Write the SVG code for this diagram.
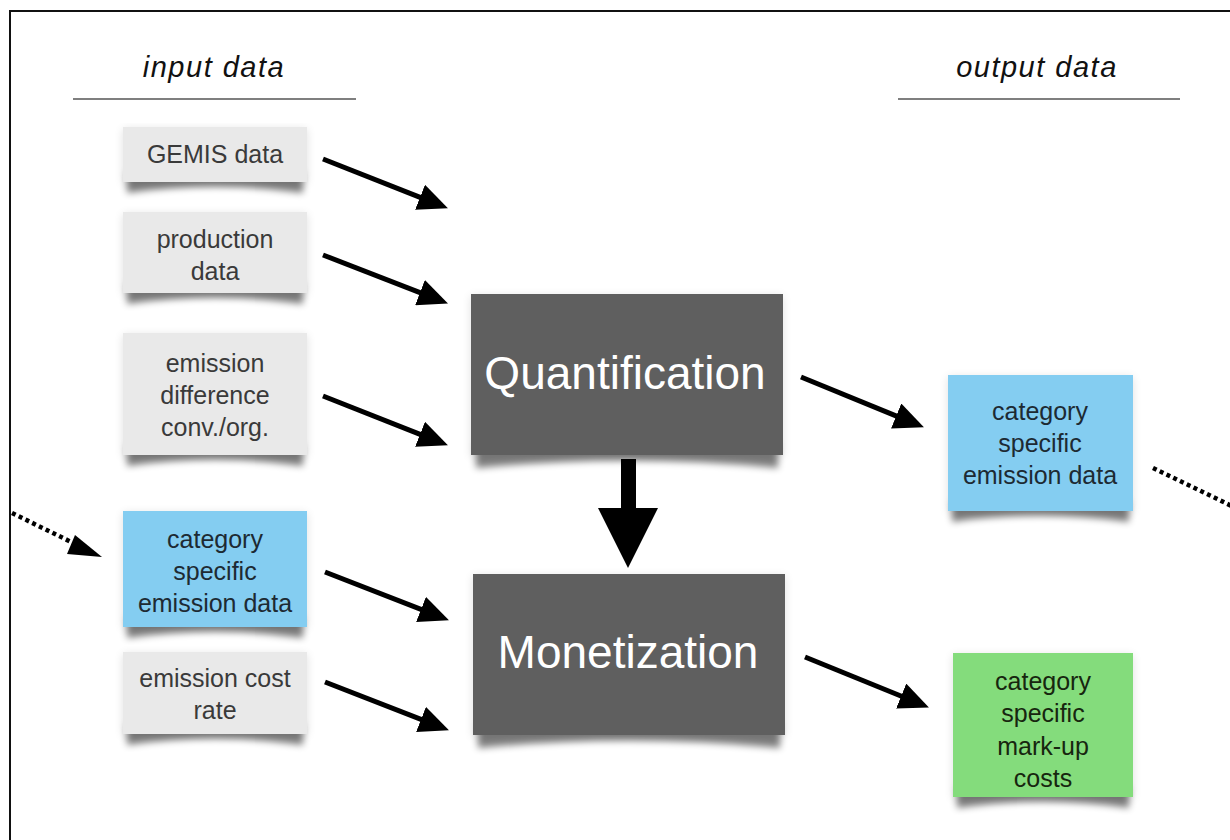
<svg xmlns="http://www.w3.org/2000/svg" width="1230" height="840" viewBox="0 0 1230 840">
  <defs>
    <filter id="curl" x="-10%" y="-50%" width="120%" height="200%">
      <feGaussianBlur stdDeviation="3.5"/>
    </filter>
    <filter id="soft" x="-10%" y="-10%" width="120%" height="130%">
      <feGaussianBlur stdDeviation="5"/>
    </filter>
    <marker id="head" markerUnits="userSpaceOnUse" markerWidth="31" markerHeight="27" refX="9" refY="13.5" orient="auto">
      <path d="M0,0 L30,13.5 L0,27 Z" fill="#000"/>
    </marker>
  </defs>
  <style>
    .frame { fill: none; stroke: #111; stroke-width: 2; }
    .rule { stroke: #555; stroke-width: 1.5; }
    .heading { font-family: "Liberation Sans", Arial, sans-serif; font-style: italic; font-size: 29px; letter-spacing: 1.5px; fill: #111; text-anchor: middle; }
    .label { font-family: "Liberation Sans", Arial, sans-serif; font-size: 25px; text-anchor: middle; }
    .big { font-family: "Liberation Sans", Arial, sans-serif; font-size: 46px; fill: #fff; text-anchor: middle; }
    .input { fill: #e9e9e9; }
    .blue { fill: #84cdf1; }
    .green { fill: #84dc7c; }
    .process { fill: #5f5f5f; }
    .t-grey { fill: #3a3a3a; }
    .t-blue { fill: #1d2a33; }
    .t-green { fill: #17260f; }
    .curl { fill: #000; opacity: 0.5; filter: url(#curl); }
    .ambient { fill: #000; opacity: 0.12; filter: url(#soft); }
    .arrow { stroke: #000; stroke-width: 5; fill: none; marker-end: url(#head); }
    .dotted { stroke: #000; stroke-width: 4.5; fill: none; stroke-dasharray: 4 3.5; }
  </style>

  <rect width="1230" height="840" fill="#fff"/>

  <!-- outer frame (top and left edges) -->
  <path class="frame" d="M10,840 V11 H1230"/>

  <!-- column headings -->
  <g id="heading-input">
    <text class="heading" x="214" y="77">input data</text>
    <line class="rule" x1="73" y1="99" x2="356" y2="99"/>
  </g>
  <g id="heading-output">
    <text class="heading" x="1037" y="77">output data</text>
    <line class="rule" x1="898" y1="99" x2="1180" y2="99"/>
  </g>

  <!-- input nodes -->
  <g id="gemis-data">
    <rect class="ambient" x="123" y="129" width="184" height="55"/>
    <path class="curl" d="M127,172 H303 V193 Q215,180 127,193 Z"/>
    <rect class="input" x="123" y="127" width="184" height="55"/>
    <text class="label t-grey" x="215" y="163">GEMIS data</text>
  </g>

  <g id="production-data">
    <rect class="ambient" x="123" y="214" width="184" height="81"/>
    <path class="curl" d="M127,283 H303 V304 Q215,291 127,304 Z"/>
    <rect class="input" x="123" y="212" width="184" height="81"/>
    <text class="label t-grey" x="215" y="248">production</text>
    <text class="label t-grey" x="215" y="280">data</text>
  </g>

  <g id="emission-difference">
    <rect class="ambient" x="123" y="335" width="184" height="122"/>
    <path class="curl" d="M127,445 H303 V466 Q215,453 127,466 Z"/>
    <rect class="input" x="123" y="333" width="184" height="122"/>
    <text class="label t-grey" x="215" y="372">emission</text>
    <text class="label t-grey" x="215" y="404">difference</text>
    <text class="label t-grey" x="215" y="436">conv./org.</text>
  </g>

  <g id="category-emission-in">
    <rect class="ambient" x="123" y="513" width="184" height="116"/>
    <path class="curl" d="M127,617 H303 V638 Q215,625 127,638 Z"/>
    <rect class="blue" x="123" y="511" width="184" height="116"/>
    <text class="label t-blue" x="215" y="548">category</text>
    <text class="label t-blue" x="215" y="580">specific</text>
    <text class="label t-blue" x="215" y="612">emission data</text>
  </g>

  <g id="emission-cost-rate">
    <rect class="ambient" x="123" y="654" width="184" height="82"/>
    <path class="curl" d="M127,724 H303 V745 Q215,732 127,745 Z"/>
    <rect class="input" x="123" y="652" width="184" height="82"/>
    <text class="label t-grey" x="215" y="687">emission cost</text>
    <text class="label t-grey" x="215" y="719">rate</text>
  </g>

  <!-- process nodes -->
  <g id="quantification">
    <rect class="ambient" x="471" y="296" width="312" height="161"/>
    <path class="curl" d="M476,443 H778 V468 Q627,453 476,468 Z"/>
    <rect class="process" x="471" y="294" width="312" height="161"/>
    <text class="big" x="625" y="389">Quantification</text>
  </g>

  <g id="monetization">
    <rect class="ambient" x="473" y="576" width="312" height="161"/>
    <path class="curl" d="M478,723 H780 V748 Q629,733 478,748 Z"/>
    <rect class="process" x="473" y="574" width="312" height="161"/>
    <text class="big" x="628" y="668">Monetization</text>
  </g>

  <!-- output nodes -->
  <g id="category-emission-out">
    <rect class="ambient" x="948" y="377" width="185" height="136"/>
    <path class="curl" d="M952,501 H1129 V522 Q1040,509 952,522 Z"/>
    <rect class="blue" x="948" y="375" width="185" height="136"/>
    <text class="label t-blue" x="1040" y="420">category</text>
    <text class="label t-blue" x="1040" y="452">specific</text>
    <text class="label t-blue" x="1040" y="484">emission data</text>
  </g>

  <g id="markup-costs">
    <rect class="ambient" x="953" y="655" width="180" height="144"/>
    <path class="curl" d="M957,787 H1129 V808 Q1043,795 957,808 Z"/>
    <rect class="green" x="953" y="653" width="180" height="144"/>
    <text class="label t-green" x="1043" y="690">category</text>
    <text class="label t-green" x="1043" y="722">specific</text>
    <text class="label t-green" x="1043" y="755">mark-up</text>
    <text class="label t-green" x="1043" y="787">costs</text>
  </g>

  <!-- connectors -->
  <g id="connectors">
    <line class="arrow" x1="323" y1="159" x2="428.4" y2="200.6"/>
    <line class="arrow" x1="323" y1="255" x2="428.4" y2="295.8"/>
    <line class="arrow" x1="323" y1="396" x2="428.4" y2="437.6"/>
    <line class="arrow" x1="325" y1="572" x2="429.4" y2="612.7"/>
    <line class="arrow" x1="325" y1="682" x2="429.4" y2="722.7"/>
    <line class="arrow" x1="801" y1="377" x2="904.5" y2="419.4"/>
    <line class="arrow" x1="805" y1="657" x2="909.5" y2="699.5"/>
    <!-- feedback loop: output emission data re-enters as input -->
    <line class="dotted" x1="12" y1="513" x2="80" y2="546.3"/>
    <path d="M75,535 L102,557 L67,554 Z" fill="#000"/>
    <line class="dotted" x1="1153" y1="468" x2="1240" y2="510"/>
    <!-- Quantification to Monetization -->
    <polygon points="621,459 636,459 636,508 658,508 628,568 598,508 621,508" fill="#000"/>
  </g>
</svg>
